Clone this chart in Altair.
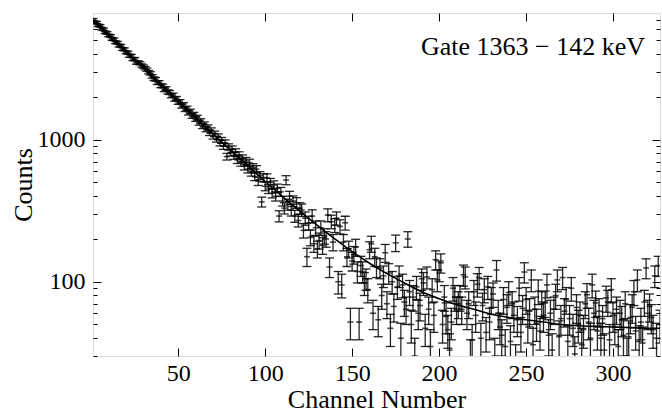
import altair as alt
import pandas as pd

channels = list(range(1, 328))
counts = [
    7010, 6700, 6680, 6390, 6330, 6050, 5990, 5700, 5650, 5420,
    5380, 5120, 5090, 4850, 4820, 4600, 4580, 4350, 4330, 4120,
    4100, 3900, 3890, 3690, 3700, 3490, 3500, 3450, 3330, 3270,
    3190, 3110, 2990, 2930, 2790, 2690, 2660, 2520, 2530, 2400,
    2390, 2250, 2290, 2170, 2150, 2040, 2060, 1930, 1950, 1840,
    1850, 1730, 1760, 1640, 1660, 1550, 1580, 1470, 1500, 1400,
    1430, 1320, 1350, 1250, 1280, 1190, 1220, 1120, 1160, 1060,
    1100, 1010, 1050, 950, 990, 900, 950, 760, 890, 810,
    860, 770, 820, 720, 780, 690, 740, 650, 710, 620,
    690, 590, 640, 550, 620, 510, 560, 365, 540, 470,
    540, 450, 500, 420, 480, 400, 455, 290, 430, 370,
    330, 520, 350, 400, 320, 370, 290, 360, 270, 330,
    320, 230, 280, 150, 260, 205, 290, 185, 240, 170,
    195, 240, 180, 210, 200, 295, 127, 265, 190, 250,
    280, 100, 245, 95, 190, 260, 150, 170, 52, 140,
    155, 175, 118, 52, 130, 118, 98, 105, 88, 168,
    185, 60, 150, 127, 54, 125, 80, 110, 160, 70,
    115, 47, 100, 67, 188, 92, 110, 40, 95, 72,
    64, 200, 85, 50, 78, 30, 92, 60, 68, 105,
    98, 47, 108, 64, 35, 88, 58, 143, 103, 120,
    136, 50, 78, 57, 46, 33, 52, 90, 78, 64,
    70, 78, 64, 112, 108, 60, 70, 29, 39, 85,
    58, 96, 107, 40, 68, 88, 44, 92, 52, 75,
    82, 30, 121, 60, 48, 42, 75, 35, 66, 84,
    38, 70, 58, 27, 54, 90, 44, 65, 117, 75,
    50, 62, 103, 36, 64, 51, 86, 45, 70, 58,
    71, 95, 42, 60, 33, 64, 80, 103, 41, 55,
    107, 62, 75, 38, 55, 90, 47, 31, 66, 50,
    58, 36, 46, 70, 81, 52, 40, 95, 60, 71,
    45, 62, 40, 55, 33, 77, 72, 39, 88, 58,
    48, 64, 35, 60, 54, 42, 70, 30, 41, 56,
    66, 85, 45, 103, 38, 52, 37, 72, 125, 60,
    67, 56, 46, 110, 40, 130, 50,
]
errors = [
    126, 123, 123, 120, 119, 117, 116, 113, 113, 110,
    110, 107, 107, 104, 104, 102, 102, 99, 99, 96,
    96, 94, 94, 91, 91, 89, 89, 88, 87, 86,
    85, 84, 82, 81, 79, 78, 77, 75, 75, 73,
    73, 71, 72, 70, 70, 68, 68, 66, 66, 64,
    65, 62, 63, 61, 61, 59, 60, 57, 58, 56,
    57, 54, 55, 53, 54, 52, 52, 50, 51, 49,
    50, 48, 49, 46, 47, 45, 46, 41, 45, 43,
    44, 42, 43, 40, 42, 39, 41, 38, 40, 37,
    39, 36, 38, 35, 37, 34, 36, 29, 35, 33,
    35, 32, 34, 31, 33, 30, 32, 26, 31, 29,
    30, 38, 31, 33, 30, 32, 28, 31, 27, 30,
    32, 27, 30, 22, 29, 26, 31, 24, 28, 23,
    25, 28, 24, 26, 25, 31, 20, 29, 25, 28,
    30, 18, 28, 18, 25, 29, 22, 23, 13, 21,
    22, 24, 20, 13, 21, 20, 18, 18, 17, 23,
    24, 14, 22, 20, 13, 20, 16, 19, 23, 15,
    19, 12, 18, 15, 25, 17, 19, 11, 18, 15,
    14, 25, 17, 13, 16, 10, 17, 14, 15, 18,
    18, 12, 19, 14, 11, 17, 14, 22, 18, 20,
    21, 13, 16, 14, 12, 10, 13, 17, 16, 14,
    15, 16, 14, 19, 19, 14, 15, 10, 11, 17,
    14, 18, 19, 11, 15, 17, 12, 17, 13, 16,
    16, 10, 20, 14, 12, 12, 16, 11, 15, 16,
    11, 15, 14, 9, 13, 17, 12, 15, 19, 16,
    13, 14, 18, 11, 14, 13, 17, 12, 15, 14,
    15, 18, 12, 14, 10, 14, 16, 18, 12, 13,
    19, 14, 16, 11, 13, 17, 12, 10, 15, 13,
    14, 11, 12, 15, 16, 13, 11, 18, 14, 15,
    12, 14, 11, 13, 10, 16, 15, 11, 17, 14,
    12, 14, 11, 14, 13, 12, 15, 10, 12, 13,
    15, 17, 12, 18, 11, 13, 11, 15, 20, 14,
    15, 13, 12, 19, 11, 21, 13,
]
fit_channels = [1, 5, 10, 15, 20, 25, 30, 35, 40, 50, 60, 70, 80, 90, 100, 110,
                120, 130, 140, 150, 160, 170, 180, 190, 200, 210, 220, 230, 240,
                250, 260, 270, 280, 290, 300, 310, 320, 327]
fit_counts = [6996, 6275, 5478, 4784, 4178, 3649, 3188, 2787, 2436, 1864, 1429,
              1097, 846, 654, 508, 397, 313, 249, 200, 163, 135, 114, 98, 85,
              76, 69, 64, 59, 56, 54, 52, 50, 49, 48.5, 48, 47.5, 47, 47]
x_major = [50, 100, 150, 200, 250, 300]
y_major = [100, 1000]
y_minor = [30, 40, 50, 60, 70, 80, 90, 200, 300, 400, 500, 600, 700, 800, 900,
           2000, 3000, 4000, 5000, 6000, 7000]
label_text = "Gate 1363 \u2212 142 keV"

df = pd.DataFrame({"ch": channels, "counts": counts, "err": errors})
df["lo"] = df["counts"] - df["err"]
df["hi"] = df["counts"] + df["err"]
fit_df = pd.DataFrame({"ch": fit_channels, "fit": fit_counts})

W, H = 567, 343
FONT = "Liberation Serif"
INK = "#000000"
xs = alt.Scale(domain=[1, 327], nice=False, zero=False)
ys = alt.Scale(type="log", domain=[30, 7800], nice=False)


def tick_axis(orient, offset, values, size):
    return alt.Axis(orient=orient, offset=offset, values=values, tickSize=size,
                    labels=False, domain=False, grid=False, title=None,
                    tickColor="black", tickWidth=1)


base = alt.Chart(df)

bars = base.mark_rule(clip=True, color=INK, strokeWidth=1.3, opacity=0.85).encode(
    x=alt.X("ch:Q", scale=xs, axis=alt.Axis(
        values=x_major, title="Channel Number", ticks=False, domain=False,
        grid=False, labelFont=FONT, labelFontSize=24, titleFont=FONT,
        titleFontSize=26, titleFontWeight="normal", labelPadding=5,
        titlePadding=1, labelColor="black", titleColor="black")),
    y=alt.Y("lo:Q", scale=ys, axis=alt.Axis(
        values=y_major, format="d", title="Counts", ticks=False, domain=False,
        grid=False, labelFont=FONT, labelFontSize=24, titleFont=FONT,
        titleFontSize=26, titleFontWeight="normal", labelPadding=8,
        titlePadding=1, labelColor="black", titleColor="black")),
    y2="hi:Q",
)

caps_lo = base.mark_tick(orient="horizontal", size=9, thickness=1.3, clip=True,
                         color=INK, opacity=0.85).encode(
    x=alt.X("ch:Q", scale=xs, axis=tick_axis("top", -H, x_major, 8)),
    y=alt.Y("lo:Q", scale=ys, axis=tick_axis("right", -W, y_major, 8)),
)

caps_hi = base.mark_tick(orient="horizontal", size=9, thickness=1.3, clip=True,
                         color=INK, opacity=0.85).encode(
    x=alt.X("ch:Q", scale=xs, axis=tick_axis("bottom", -H, x_major, 8)),
    y=alt.Y("hi:Q", scale=ys, axis=tick_axis("left", -W, y_major, 8)),
)

centers = base.mark_tick(orient="horizontal", size=6, thickness=1.6, clip=True,
                         color=INK).encode(
    x=alt.X("ch:Q", scale=xs, axis=None),
    y=alt.Y("counts:Q", scale=ys, axis=tick_axis("right", -W, y_minor, 4)),
)

fit_line = alt.Chart(fit_df).mark_line(color=INK, strokeWidth=1.6, clip=True,
                                       interpolate="monotone").encode(
    x=alt.X("ch:Q", scale=xs, axis=None),
    y=alt.Y("fit:Q", scale=ys, axis=tick_axis("left", -W, y_minor, 4)),
)

label = alt.Chart(pd.DataFrame({"t": [label_text]})).mark_text(
    font=FONT, fontSize=26, align="right", baseline="alphabetic", color="black"
).encode(text="t:N", x=alt.value(W - 15), y=alt.value(42))

chart = alt.layer(bars, caps_lo, caps_hi, centers, fit_line, label).resolve_axis(
    x="independent", y="independent"
).properties(
    width=W, height=H,
    padding={"left": 93, "top": 13, "right": 2, "bottom": 59},
    autosize=alt.AutoSizeParams(type="none"),
).configure_view(stroke="black", strokeWidth=1.2).configure(background="white")

chart.save("out.html", embed_options={"renderer": "svg", "actions": False})
